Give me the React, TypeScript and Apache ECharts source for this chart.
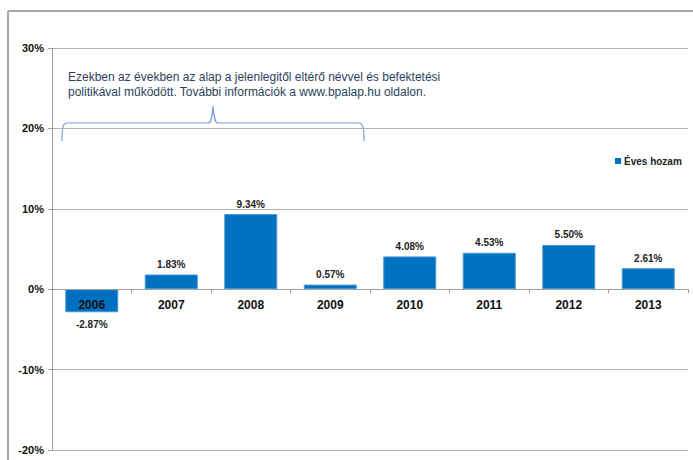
import React, { useEffect, useRef } from "react";
import * as echarts from "echarts";

const categories = ["2006", "2007", "2008", "2009", "2010", "2011", "2012", "2013"];
const values = [-2.87, 1.83, 9.34, 0.57, 4.08, 4.53, 5.5, 2.61];
const seriesName = "Éves hozam";
const noteLines = [
  "Ezekben az években az alap a jelenlegitől eltérő névvel és befektetési",
  "politikával működött. További információk a www.bpalap.hu oldalon.",
];
const yMin = -20;
const yMax = 30;
const yInterval = 10;

const bracePath =
  "M62,141 C62,128 63,123 67,123 L208,123 C211,123 212,118 213,106 C214,118 215,123 218,123 L359,123 C363,123 364,128 364,141";

let registered = false;

const gridTop = 48;
const gridBottom = 10;
const chartHeight = 460;

export default function App() {
  const ref = useRef<HTMLDivElement>(null);
  useEffect(() => {
    if (!registered) {
      echarts.graphic.registerShape("brace", echarts.graphic.extendPath(bracePath, {}));
      registered = true;
    }
    const plotH = chartHeight - gridTop - gridBottom;
    const zeroOffset = -(plotH * (0 - yMin)) / (yMax - yMin);
    const chart = echarts.init(ref.current!, null, { renderer: "svg" });
    chart.setOption({
      animation: false,
      backgroundColor: "#ffffff",
      textStyle: { fontFamily: "Liberation Sans" },
      grid: {
        left: 52,
        right: 5,
        top: gridTop,
        bottom: gridBottom,
        containLabel: false,
        outerBoundsMode: "none",
      },
      legend: {
        data: [seriesName],
        left: 610,
        top: 151,
        icon: "rect",
        itemWidth: 6,
        itemHeight: 6,
        itemStyle: { borderWidth: 0 },
        textStyle: { fontSize: 10, fontWeight: "bold", color: "#222", padding: [0, 0, 0, -2] },
      },
      xAxis: {
        type: "category",
        data: categories,
        z: 10,
        offset: zeroOffset,
        axisLine: { onZero: false, lineStyle: { color: "#a0a0a0", width: 1 } },
        axisTick: { show: true, length: 4, lineStyle: { color: "#a0a0a0" } },
        axisLabel: { fontSize: 12, fontWeight: "bold", color: "#111", margin: 10 },
      },
      yAxis: {
        type: "value",
        min: yMin,
        max: yMax,
        interval: yInterval,
        axisLine: { show: true, onZero: false, lineStyle: { color: "#a0a0a0" } },
        axisTick: { show: true, length: 4, lineStyle: { color: "#a0a0a0" } },
        splitLine: { lineStyle: { color: "#b4b4b4", width: 1 } },
        axisLabel: {
          fontSize: 11,
          fontWeight: "bold",
          color: "#111",
          margin: 8,
          formatter: (v: number) => v + "%",
        },
      },
      series: [
        {
          name: seriesName,
          type: "bar",
          data: values.map((v) => ({
            value: v,
            label: { position: v < 0 ? "bottom" : "top", distance: v < 0 ? 7 : 5 },
          })),
          barWidth: 53,
          itemStyle: { color: "#0070C0", borderColor: "#4a96d2", borderWidth: 1 },
          label: {
            show: true,
            position: "top",
            distance: 5,
            fontSize: 10,
            fontWeight: "bold",
            color: "#222",
            formatter: (p: any) => p.value.toFixed(2) + "%",
          },
        },
      ],
      graphic: [
        {
          type: "line",
          shape: { x1: 8, y1: 11, x2: 693, y2: 11 },
          style: { stroke: "#a6a6a6", lineWidth: 2 },
        },
        {
          type: "line",
          shape: { x1: 8, y1: 11, x2: 8, y2: 460 },
          style: { stroke: "#a6a6a6", lineWidth: 2 },
        },
        {
          type: "brace",
          x: 0,
          y: 0,
          style: { stroke: "#7a9fd0", lineWidth: 1.2, fill: "none" },
        },
        {
          type: "text",
          x: 68,
          y: 69,
          style: {
            text: noteLines.join("\n"),
            fontSize: 12,
            lineHeight: 15,
            fontFamily: "Liberation Sans",
            fill: "#2b3f5c",
          },
        },
      ],
    });
    return () => chart.dispose();
  }, []);
  return (
    <div
      ref={ref}
      style={{ position: "fixed", left: 0, top: 0, width: 693, height: 460 }}
    />
  );
}
